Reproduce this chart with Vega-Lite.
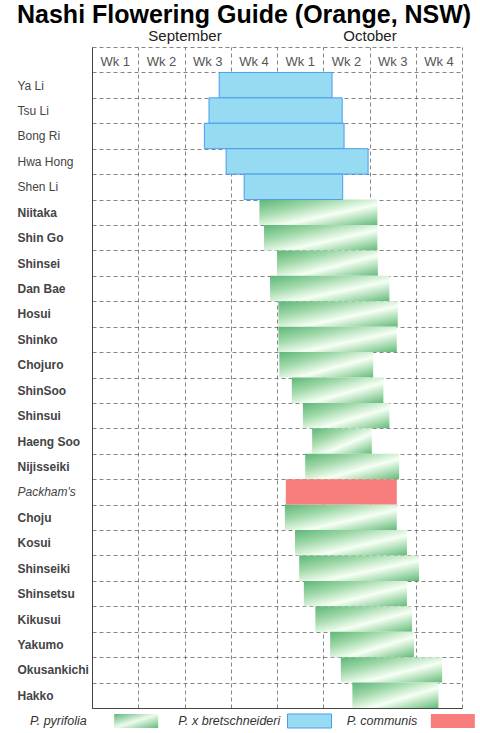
{
  "$schema": "https://vega.github.io/schema/vega-lite/v6.json",
  "padding": {"left": 17, "right": 5, "top": 3, "bottom": 4},
  "background": "white",
  "title": {
    "text": "Nashi Flowering Guide (Orange, NSW)",
    "font": "Liberation Sans",
    "fontSize": 25,
    "fontWeight": "bold",
    "color": "#000",
    "anchor": "start",
    "offset": 0
  },
  "datasets": {
    "flowering": [
      {"variety": "Ya Li", "species": "P. x bretschneideri", "start": 2.75, "end": 5.19},
      {"variety": "Tsu Li", "species": "P. x bretschneideri", "start": 2.53, "end": 5.41},
      {"variety": "Bong Ri", "species": "P. x bretschneideri", "start": 2.43, "end": 5.45},
      {"variety": "Hwa Hong", "species": "P. x bretschneideri", "start": 2.9, "end": 5.97},
      {"variety": "Shen Li", "species": "P. x bretschneideri", "start": 3.29, "end": 5.42},
      {"variety": "Niitaka", "species": "P. pyrifolia", "start": 3.62, "end": 6.17},
      {"variety": "Shin Go", "species": "P. pyrifolia", "start": 3.72, "end": 6.17},
      {"variety": "Shinsei", "species": "P. pyrifolia", "start": 4.0, "end": 6.18},
      {"variety": "Dan Bae", "species": "P. pyrifolia", "start": 3.85, "end": 6.43},
      {"variety": "Hosui", "species": "P. pyrifolia", "start": 4.03, "end": 6.61},
      {"variety": "Shinko", "species": "P. pyrifolia", "start": 4.03, "end": 6.59},
      {"variety": "Chojuro", "species": "P. pyrifolia", "start": 4.05, "end": 6.08},
      {"variety": "ShinSoo", "species": "P. pyrifolia", "start": 4.32, "end": 6.3},
      {"variety": "Shinsui", "species": "P. pyrifolia", "start": 4.56, "end": 6.43},
      {"variety": "Haeng Soo", "species": "P. pyrifolia", "start": 4.76, "end": 6.05},
      {"variety": "Nijisseiki", "species": "P. pyrifolia", "start": 4.61, "end": 6.64},
      {"variety": "Packham's", "species": "P. communis", "start": 4.19, "end": 6.59},
      {"variety": "Choju", "species": "P. pyrifolia", "start": 4.17, "end": 6.59},
      {"variety": "Kosui", "species": "P. pyrifolia", "start": 4.39, "end": 6.81},
      {"variety": "Shinseiki", "species": "P. pyrifolia", "start": 4.48, "end": 7.07},
      {"variety": "Shinsetsu", "species": "P. pyrifolia", "start": 4.58, "end": 6.81},
      {"variety": "Kikusui", "species": "P. pyrifolia", "start": 4.83, "end": 6.92},
      {"variety": "Yakumo", "species": "P. pyrifolia", "start": 5.15, "end": 6.96},
      {"variety": "Okusankichi", "species": "P. pyrifolia", "start": 5.38, "end": 7.57},
      {"variety": "Hakko", "species": "P. pyrifolia", "start": 5.63, "end": 7.49}
    ],
    "weeks": [
      {"month": "September", "week": "Wk 1", "wk": 1},
      {"month": "September", "week": "Wk 2", "wk": 2},
      {"month": "September", "week": "Wk 3", "wk": 3},
      {"month": "September", "week": "Wk 4", "wk": 4},
      {"month": "October", "week": "Wk 1", "wk": 5},
      {"month": "October", "week": "Wk 2", "wk": 6},
      {"month": "October", "week": "Wk 3", "wk": 7},
      {"month": "October", "week": "Wk 4", "wk": 8}
    ],
    "legend": [
      {"species": "P. pyrifolia"},
      {"species": "P. x bretschneideri"},
      {"species": "P. communis"}
    ]
  },
  "vconcat": [
    {
      "width": 370,
      "height": 661,
      "layer": [
        {
          "data": {"name": "flowering"},
          "transform": [{"filter": "datum.species === 'P. pyrifolia'"}],
          "mark": {
            "type": "bar",
            "fill": {
              "gradient": "linear",
              "x1": 0, "y1": 0, "x2": 1, "y2": 1,
              "stops": [
                {"offset": 0, "color": "#5db678"},
                {"offset": 0.3, "color": "#9fd8a8"},
                {"offset": 0.6, "color": "#f6fff4"},
                {"offset": 0.85, "color": "#9ad5a6"},
                {"offset": 1, "color": "#62b97c"}
              ]
            }
          },
          "encoding": {
            "x": {
              "field": "start",
              "type": "quantitative",
              "scale": {"domain": [0, 8], "nice": false, "zero": false},
              "axis": {
                "orient": "bottom",
                "values": [0, 1, 2, 3, 4, 5, 6, 7, 8],
                "labels": false,
                "ticks": false,
                "title": null,
                "grid": true,
                "gridDash": [4, 3],
                "gridColor": "#666",
                "gridWidth": 0.8,
                "domainColor": "#444"
              }
            },
            "x2": {"field": "end"},
            "y": {
              "field": "variety",
              "type": "nominal",
              "scale": {
                "domain": [" ", "Ya Li", "Tsu Li", "Bong Ri", "Hwa Hong", "Shen Li", "Niitaka", "Shin Go", "Shinsei", "Dan Bae", "Hosui", "Shinko", "Chojuro", "ShinSoo", "Shinsui", "Haeng Soo", "Nijisseiki", "Packham's", "Choju", "Kosui", "Shinseiki", "Shinsetsu", "Kikusui", "Yakumo", "Okusankichi", "Hakko"],
                "paddingInner": 0,
                "paddingOuter": 0
              },
              "axis": {
                "title": null,
                "tickBand": "extent",
                "ticks": false,
                "tickSize": 0,
                "labelAlign": "left",
                "labelPadding": 75,
                "labelLimit": 0,
                "labelFont": "Liberation Sans",
                "labelFontSize": 12,
                "labelColor": "#444",
                "labelFontWeight": {
                  "condition": {"test": "indexof(['Ya Li', 'Tsu Li', 'Bong Ri', 'Hwa Hong', 'Shen Li', \"Packham's\"], datum.value) >= 0", "value": "normal"},
                  "value": "bold"
                },
                "labelFontStyle": {
                  "condition": {"test": "datum.value === \"Packham's\"", "value": "italic"},
                  "value": "normal"
                },
                "grid": true,
                "gridDash": [4, 3],
                "gridColor": "#666",
                "gridWidth": 0.8,
                "domainColor": "#444"
              }
            }
          }
        },
        {
          "data": {"name": "flowering"},
          "transform": [{"filter": "datum.species === 'P. x bretschneideri'"}],
          "mark": {"type": "bar", "fill": "#97dbf3", "stroke": "#4a9cef", "strokeWidth": 1},
          "encoding": {
            "x": {"field": "start", "type": "quantitative", "axis": null},
            "x2": {"field": "end"},
            "y": {"field": "variety", "type": "nominal"}
          }
        },
        {
          "data": {"name": "flowering"},
          "transform": [{"filter": "datum.species === 'P. communis'"}],
          "mark": {"type": "bar", "fill": "#f77e7c"},
          "encoding": {
            "x": {"field": "start", "type": "quantitative", "axis": null},
            "x2": {"field": "end"},
            "y": {"field": "variety", "type": "nominal"}
          }
        },
        {
          "data": {"name": "weeks"},
          "mark": {"type": "text", "font": "Liberation Sans", "fontSize": 13, "color": "#555", "dx": -23, "dy": 2, "baseline": "middle"},
          "encoding": {
            "x": {
              "field": "wk",
              "type": "quantitative",
              "axis": {
                "orient": "top",
                "values": [2, 6],
                "labelExpr": "datum.value == 2 ? 'September' : 'October'",
                "ticks": false,
                "tickSize": 0,
                "domain": false,
                "grid": false,
                "title": null,
                "labelFont": "Liberation Sans",
                "labelFontSize": 15,
                "labelColor": "#222",
                "labelPadding": 4
              }
            },
            "y": {"datum": " ", "type": "nominal"},
            "text": {"field": "week", "type": "nominal"}
          }
        }
      ],
      "resolve": {"axis": {"x": "independent"}}
    },
    {
      "width": 370,
      "height": 14,
      "data": {"name": "legend"},
      "encoding": {
        "x": {
          "field": "species",
          "type": "nominal",
          "scale": {"domain": ["P. pyrifolia", "P. x bretschneideri", "P. communis"], "range": [-62, 383], "paddingInner": 0, "paddingOuter": 0},
          "axis": null
        }
      },
      "layer": [
        {
          "transform": [{"filter": "datum.species !== 'P. communis'"}],
          "mark": {"type": "text", "align": "left", "baseline": "middle", "font": "Liberation Sans", "fontSize": 12.5, "fontStyle": "italic", "color": "#333"},
          "encoding": {
            "x": {"field": "species", "type": "nominal", "bandPosition": 0},
            "text": {"field": "species", "type": "nominal"}
          }
        },
        {
          "transform": [{"filter": "datum.species === 'P. communis'"}],
          "mark": {"type": "text", "align": "left", "baseline": "middle", "font": "Liberation Sans", "fontSize": 12.5, "fontStyle": "italic", "color": "#333", "dx": 20},
          "encoding": {
            "x": {"field": "species", "type": "nominal", "bandPosition": 0},
            "text": {"field": "species", "type": "nominal"}
          }
        },
        {
          "transform": [{"filter": "datum.species === 'P. pyrifolia'"}],
          "mark": {
            "type": "bar", "width": 44, "xOffset": 32,
            "fill": {
              "gradient": "linear",
              "x1": 0, "y1": 0, "x2": 1, "y2": 1,
              "stops": [
                {"offset": 0, "color": "#5db678"},
                {"offset": 0.5, "color": "#eefaec"},
                {"offset": 1, "color": "#62b97c"}
              ]
            }
          }
        },
        {
          "transform": [{"filter": "datum.species === 'P. x bretschneideri'"}],
          "mark": {"type": "bar", "width": 44, "xOffset": 57, "fill": "#97dbf3", "stroke": "#4a9cef", "strokeWidth": 1}
        },
        {
          "transform": [{"filter": "datum.species === 'P. communis'"}],
          "mark": {"type": "bar", "width": 44, "xOffset": 52, "fill": "#f77e7c"}
        }
      ]
    }
  ],
  "spacing": 5,
  "config": {
    "view": {"stroke": null},
    "font": "Liberation Sans"
  }
}
